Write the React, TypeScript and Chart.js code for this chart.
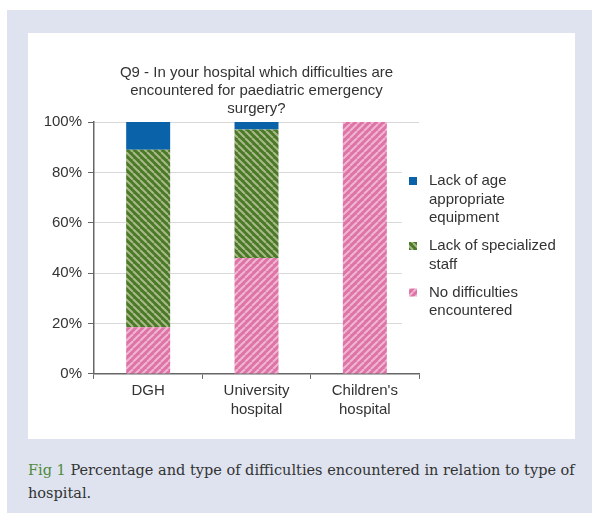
import React, { useEffect, useRef } from "react";
import { Chart, registerables } from "chart.js";

Chart.register(...registerables);

const categories = [["DGH"], ["University", "hospital"], ["Children's", "hospital"]];
const seriesNames = [
  "No difficulties encountered",
  "Lack of specialized staff",
  "Lack of age appropriate equipment",
];
const legendLines = [
  ["No difficulties", "encountered"],
  ["Lack of specialized", "staff"],
  ["Lack of age", "appropriate", "equipment"],
];
const noDifficulties = [18.5, 46, 100];
const specializedStaff = [70.5, 51, 0];
const ageEquipment = [11, 3, 0];
const titleLines = [
  "Q9 - In your hospital which difficulties are",
  "encountered for paediatric emergency",
  "surgery?",
];

const FONT = "'Liberation Sans', Arial, Helvetica, sans-serif";

function makePattern(base: string, stripe: string, down: boolean): CanvasPattern | string {
  const s = 7;
  const c = document.createElement("canvas");
  c.width = s;
  c.height = s;
  const ctx = c.getContext("2d");
  if (!ctx) return base;
  ctx.fillStyle = base;
  ctx.fillRect(0, 0, s, s);
  ctx.strokeStyle = stripe;
  ctx.lineWidth = 2;
  for (const o of [-s, 0, s]) {
    ctx.beginPath();
    if (down) {
      ctx.moveTo(o, 0);
      ctx.lineTo(o + s, s);
    } else {
      ctx.moveTo(o, s);
      ctx.lineTo(o + s, 0);
    }
    ctx.stroke();
  }
  return ctx.createPattern(c, "repeat") || base;
}

export default function App() {
  const ref = useRef<HTMLCanvasElement | null>(null);

  useEffect(() => {
    if (!ref.current) return;
    const pink = makePattern("#de73a8", "#f0b6d0", false);
    const green = makePattern("#4a7a27", "#a9b98a", true);
    const blue = "#0a62a9";
    const fills = [pink, green, blue];

    const legendPlugin = {
      id: "sideLegend",
      afterDraw(chart: any) {
        const { ctx, chartArea } = chart;
        ctx.save();
        ctx.fillStyle = "#ffffff";
        ctx.fillRect(
          chartArea.right - 17,
          chartArea.top + 18,
          chart.width - chartArea.right + 17,
          chartArea.bottom - chartArea.top - 33
        );
        ctx.font = `15px ${FONT}`;
        ctx.textBaseline = "middle";
        ctx.textAlign = "left";
        let y = chartArea.top + 59;
        const lh = 18.5;
        for (let k = fills.length - 1; k >= 0; k--) {
          ctx.fillStyle = fills[k];
          ctx.fillRect(chartArea.right - 10, y - 4, 8, 8);
          ctx.fillStyle = "#333333";
          const lines = legendLines[k];
          lines.forEach((t, i) => ctx.fillText(t, chartArea.right + 10, y + i * lh));
          y += (lines.length - 1) * lh + 28;
        }
        ctx.restore();
      },
    };

    const chart = new Chart(ref.current, {
      type: "bar",
      data: {
        labels: categories,
        datasets: [
          { label: seriesNames[0], data: noDifficulties, backgroundColor: pink as any },
          { label: seriesNames[1], data: specializedStaff, backgroundColor: green as any },
          { label: seriesNames[2], data: ageEquipment, backgroundColor: blue },
        ],
      },
      options: {
        responsive: false,
        animation: false,
        layout: { padding: { left: 0, right: 156, top: 0, bottom: 18 } },
        datasets: {
          bar: { categoryPercentage: 1, barPercentage: 0.406 },
        } as any,
        plugins: {
          legend: { display: false },
          tooltip: { enabled: false },
          title: {
            display: true,
            text: titleLines,
            fullSize: false,
            color: "#333333",
            font: { family: FONT, size: 15, weight: "normal", lineHeight: 1.2 },
            padding: { top: 31, bottom: 4 },
          },
        },
        scales: {
          x: {
            stacked: true,
            grid: { drawOnChartArea: false, tickLength: 5, tickColor: "#666666", offset: true },
            border: { color: "#666666", width: 1.5 },
            ticks: { color: "#333333", padding: 2, font: { family: FONT, size: 15, lineHeight: 1.27 } },
          },
          y: {
            stacked: true,
            min: 0,
            max: 100,
            afterFit: (scale: any) => {
              scale.width = 66;
            },
            grid: { color: "#d9d9d9", tickColor: "#666666", tickLength: 6 },
            border: { color: "#666666", width: 1.5 },
            ticks: {
              stepSize: 20,
              color: "#333333",
              padding: 6,
              font: { family: FONT, size: 15 },
              callback: (v: any) => `${v}%`,
            },
          },
        },
      },
      plugins: [legendPlugin],
    });
    return () => chart.destroy();
  }, []);

  return (
    <div style={{ position: "fixed", left: 0, top: 0, width: 592, height: 513, background: "#ffffff", overflow: "hidden" }}>
      <div style={{ position: "absolute", left: 7, top: 10, width: 585, height: 503, background: "#dee3ef" }} />
      <div style={{ position: "absolute", left: 28, top: 33, width: 547, height: 406, background: "#ffffff" }}>
        <canvas ref={ref} width={547} height={406} style={{ display: "block" }} />
      </div>
      <div
        style={{
          position: "absolute",
          left: 28,
          top: 459,
          width: 560,
          fontFamily: "'DejaVu Serif', 'Liberation Serif', serif",
          fontSize: 14.5,
          lineHeight: "23px",
          color: "#333333",
          whiteSpace: "nowrap",
        }}
      >
        <span style={{ color: "#4f8a3c" }}>Fig 1</span> Percentage and type of difficulties encountered in relation to type of
        <br />
        hospital.
      </div>
    </div>
  );
}
